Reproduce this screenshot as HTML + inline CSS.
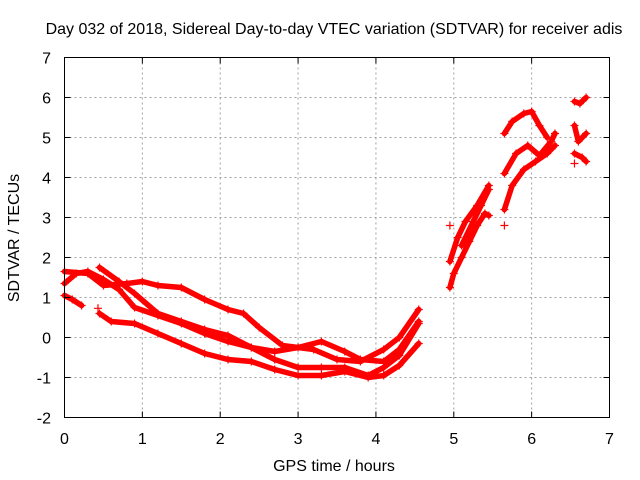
<!DOCTYPE html>
<html><head><meta charset="utf-8">
<style>
html,body{margin:0;padding:0;background:#fff;}
svg{display:block;font-family:"Liberation Sans",sans-serif;}
</style></head>
<body>
<svg id="chart" width="640" height="480" viewBox="0 0 640 480" xmlns="http://www.w3.org/2000/svg">
<rect width="640" height="480" fill="#fff"/>
<g id="grid"></g>
<g id="series"></g>
<rect x="64.5" y="57.5" width="545" height="360" fill="none" stroke="#000" stroke-width="1"/>
<g id="ticks"></g>
<text x="334" y="34" font-size="16" text-anchor="middle" fill="#000">Day 032 of 2018, Sidereal Day-to-day VTEC variation (SDTVAR) for receiver adis</text>
<text x="334" y="471" font-size="16" text-anchor="middle" fill="#000">GPS time / hours</text>
<text x="19" y="238" font-size="16" text-anchor="middle" fill="#000" transform="rotate(-90 19 238)">SDTVAR / TECUs</text>
</svg>
<script>
const xTicks = [0,1,2,3,4,5,6,7];
const yTicks = [-2,-1,0,1,2,3,4,5,6,7];
const track1 = [[0,1.35],[0.15,1.6],[0.3,1.65],[0.5,1.45],[0.7,1.2],[0.9,0.75],[1.2,0.55],[1.5,0.35],[1.8,0.1],[2.1,-0.1],[2.4,-0.25],[2.7,-0.35],[3.0,-0.25],[3.3,-0.1],[3.6,-0.35],[3.8,-0.55],[4.1,-0.6],[4.3,-0.3],[4.55,0.4]];
const track2 = [[0,1.65],[0.3,1.6],[0.5,1.3],[0.8,1.35],[1.0,1.4],[1.2,1.3],[1.5,1.25],[1.8,0.95],[2.1,0.7],[2.3,0.6],[2.5,0.25],[2.8,-0.2],[3.2,-0.3],[3.5,-0.55],[3.8,-0.6],[4.1,-0.3],[4.3,0],[4.55,0.7]];
const track3 = [[0.45,1.75],[0.7,1.4],[0.9,1.1],[1.2,0.6],[1.5,0.4],[1.8,0.2],[2.1,0.05],[2.4,-0.25],[2.7,-0.55],[3.0,-0.75],[3.3,-0.75],[3.6,-0.75],[3.9,-0.95],[4.1,-0.75],[4.3,-0.45],[4.55,0.35]];
const track4 = [[0,1.05],[0.1,0.95],[0.22,0.8]];
const track5 = [[0.45,0.6],[0.6,0.4],[0.9,0.35],[1.2,0.1],[1.5,-0.15],[1.8,-0.4],[2.1,-0.55],[2.4,-0.6],[2.7,-0.8],[3.0,-0.95],[3.3,-0.95],[3.6,-0.85],[3.9,-1.0],[4.1,-0.95],[4.3,-0.7],[4.55,-0.15]];
const track6 = [[4.95,1.25],[5.0,1.6],[5.1,2.0],[5.2,2.4],[5.3,2.8],[5.4,3.1],[5.45,3.05]];
const track7 = [[4.95,1.9],[5.05,2.5],[5.15,2.9],[5.3,3.3],[5.45,3.8]];
const track8 = [[5.1,2.3],[5.25,2.9],[5.35,3.3],[5.45,3.7]];
const track9 = [[5.65,4.1],[5.8,4.6],[5.95,4.8],[6.1,4.55],[6.25,4.9],[6.3,5.1]];
const track10 = [[5.65,3.2],[5.75,3.8],[5.9,4.2],[6.05,4.4],[6.2,4.6],[6.3,4.8]];
const track11 = [[5.65,5.1],[5.75,5.4],[5.9,5.6],[6.0,5.65],[6.1,5.3],[6.2,5.0]];
const track12 = [[6.55,5.9],[6.62,5.85],[6.7,6.0]];
const track13 = [[6.55,5.3],[6.6,4.9],[6.7,5.1]];
const track14 = [[6.55,4.6],[6.65,4.5],[6.7,4.4]];
const outliers = [[4.95,2.8],[5.65,2.8],[0.43,0.73],[6.55,4.35]];
const tracks = [track1,track2,track3,track4,track5,track6,track7,track8,track9,track10,track11,track12,track13,track14];

const X0=64.5, X1=609.5, Y0=417.5, Y1=57.5;
function sx(v){return X0+(v-0)/(7-0)*(X1-X0);}
function sy(v){return Y0-(v-(-2))/(7-(-2))*(Y0-Y1);}
const NS="http://www.w3.org/2000/svg";
const grid=document.getElementById('grid'), ticks=document.getElementById('ticks'), series=document.getElementById('series');
function mk(tag,attrs,parent){const e=document.createElementNS(NS,tag);for(const k in attrs)e.setAttribute(k,attrs[k]);parent.appendChild(e);return e;}

xTicks.forEach(t=>{
  const x=sx(t);
  if(t>0&&t<7){const g=mk('line',{x1:x,x2:x,y1:Y1,y2:Y0,stroke:'#a0a0a0','stroke-dasharray':'2,3'},grid);
  
  }
  const a=mk('line',{x1:x,x2:x,y1:Y0,y2:Y0-6,stroke:'#000'},ticks);
  
  
  const b=mk('line',{x1:x,x2:x,y1:Y1,y2:Y1+6,stroke:'#000'},ticks);
  
  
  const l=mk('text',{x:x,y:444,'font-size':16,'text-anchor':'middle',fill:'#000'},ticks);
  l.textContent=t;
  
  
});
yTicks.forEach(t=>{
  const y=sy(t);
  if(t>-2&&t<7){const g=mk('line',{x1:X0,x2:X1,y1:y,y2:y,stroke:'#a0a0a0','stroke-dasharray':'2,3'},grid);
  
  }
  const a=mk('line',{x1:X0,x2:X0+6,y1:y,y2:y,stroke:'#000'},ticks);
  
  
  const b=mk('line',{x1:X1,x2:X1-6,y1:y,y2:y,stroke:'#000'},ticks);
  
  
  const l=mk('text',{x:51,y:y+6,'font-size':16,'text-anchor':'end',fill:'#000'},ticks);
  l.textContent=t;
  
  
});
function plus(v){
  const x=sx(v[0]), y=sy(v[1]);
  const p=mk('path',{d:`M${x-4},${y}H${x+4}M${x},${y-4}V${y+4}`,stroke:'#ff0000','stroke-width':1.2,fill:'none'},series);
  
  
}
tracks.forEach(tr=>{
  const pl=mk('polyline',{points:tr.map(v=>sx(v[0])+','+sy(v[1])).join(' '),stroke:'#ff0000','stroke-width':5.5,fill:'none','stroke-linejoin':'round','stroke-linecap':'round'},series);
  
  
  tr.forEach(plus);
});
outliers.forEach(plus);
</script>
</body></html>
